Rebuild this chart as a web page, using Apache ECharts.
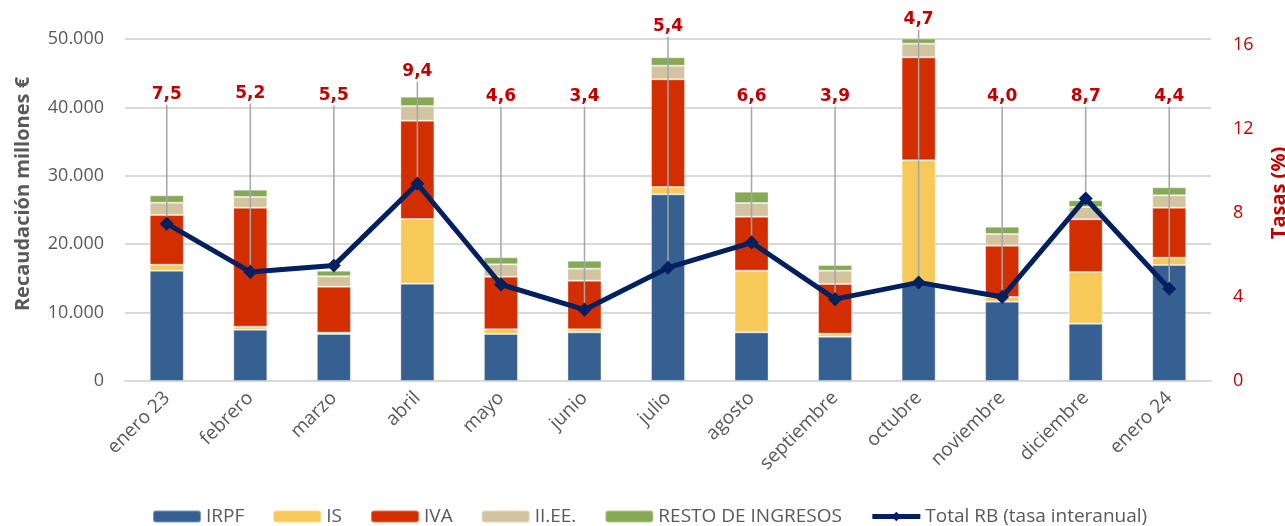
<!DOCTYPE html>
<html>
<head>
<meta charset="utf-8">
<script src="https://cdn.jsdelivr.net/npm/echarts@6/dist/echarts.min.js"></script>
<style>
html,body{margin:0;padding:0;background:#fff}
#main{width:1285px;height:526px}
</style>
</head>
<body>
<div id="main"></div>
<script>
// categorias
var meses = ['enero 23', 'febrero', 'marzo', 'abril', 'mayo', 'junio', 'julio', 'agosto', 'septiembre', 'octubre', 'noviembre', 'diciembre', 'enero 24'];
// recaudacion, millones de euros
var irpf = [16130, 7500, 6870, 14230, 6870, 7110, 27290, 7110, 6480, 14300, 11600, 8380, 16960];
var is = [880, 440, 200, 9450, 680, 440, 1070, 9020, 440, 17960, 680, 7560, 1070];
var iva = [7260, 17400, 6720, 14380, 7700, 7120, 15740, 7900, 7260, 15060, 7510, 7700, 7310];
var iiee = [1800, 1560, 1510, 2140, 1810, 1750, 2000, 1990, 1950, 2000, 1700, 1800, 1800];
var resto = [1070, 1070, 830, 1370, 1020, 1170, 1220, 1660, 830, 1020, 1070, 970, 1170];
// Total RB, tasa interanual (%)
var tasa = [7.5, 5.2, 5.5, 9.4, 4.6, 3.4, 5.4, 6.6, 3.9, 4.7, 4.0, 8.7, 4.4];

// altura (px) de cada etiqueta de la tasa
var etiquetaY = [95, 94, 96, 72, 97, 97, 27, 97, 97, 20, 97, 97, 97];

var gris = '#595959';
var rojo = '#C00000';
var azul = '#002060';
var fuente = 'Open Sans';

var chart = echarts.init(document.getElementById('main'));

function barra(nombre, datos, color) {
  return {
    name: nombre,
    type: 'bar',
    stack: 'total',
    barWidth: 34,
    data: datos,
    itemStyle: { color: color, borderColor: 'rgba(255,255,255,0.35)', borderWidth: 1 }
  };
}

var option = {
  animation: false,
  grid: { left: 125, right: 74, top: 39, bottom: 145, outerBoundsMode: 'none' },
  legend: {
    left: 152,
    top: 507,
    padding: 0,
    itemWidth: 48,
    itemHeight: 12,
    itemGap: 28,
    textStyle: { color: gris, fontSize: 19, fontFamily: fuente },
    data: ['IRPF', 'IS', 'IVA', 'II.EE.', 'RESTO DE INGRESOS', {
      name: 'Total RB (tasa interanual)',
      lineStyle: { width: 5, color: azul },
      itemStyle: { color: azul }
    }]
  },
  xAxis: {
    type: 'category',
    data: meses,
    axisTick: { show: false },
    axisLine: { lineStyle: { color: '#D9D9D9', width: 2 } },
    axisLabel: { rotate: 45, color: gris, fontSize: 19, fontFamily: fuente, margin: 14 }
  },
  yAxis: [
    {
      type: 'value',
      min: 0,
      max: 50000,
      interval: 10000,
      name: 'Recaudación millones €',
      nameLocation: 'middle',
      nameGap: 92,
      nameTextStyle: { color: gris, fontSize: 20, fontWeight: 'bold', fontFamily: fuente, padding: [0, 0, 0, 32] },
      axisLabel: {
        color: gris, fontSize: 18, fontFamily: fuente, margin: 21,
        formatter: function (v) { return v.toLocaleString('de-DE'); }
      },
      splitLine: { lineStyle: { color: '#D9D9D9', width: 2 } }
    },
    {
      type: 'value',
      min: 0,
      max: 16.3,
      interval: 4,
      name: 'Tasas (%)',
      nameLocation: 'middle',
      nameRotate: 90,
      nameGap: 58,
      nameTextStyle: { color: rojo, fontSize: 20, fontWeight: 'bold', fontFamily: fuente, padding: [0, 0, 0, 34] },
      axisLabel: { color: rojo, fontSize: 18, fontFamily: fuente, margin: 22, showMaxLabel: false },
      splitLine: { show: false }
    }
  ],
  series: [
    barra('IRPF', irpf, '#376092'),
    barra('IS', is, '#F7C958'),
    barra('IVA', iva, '#D22E00'),
    barra('II.EE.', iiee, '#D3C4A0'),
    barra('RESTO DE INGRESOS', resto, '#87A955'),
    {
      name: 'Total RB (tasa interanual)',
      type: 'line',
      yAxisIndex: 1,
      data: tasa,
      z: 5,
      symbol: 'diamond',
      symbolSize: 14,
      itemStyle: { color: azul },
      lineStyle: { color: azul, width: 5 },
      label: {
        show: true,
        position: 'top',
        color: rojo,
        fontSize: 17,
        fontWeight: 'bold',
        fontFamily: 'DejaVu Sans',
        backgroundColor: '#fff',
        padding: [1, 2],
        formatter: function (p) { return p.value.toFixed(1).replace('.', ','); }
      },
      labelLayout: function (p) {
        return { y: etiquetaY[p.dataIndex], align: 'center', verticalAlign: 'middle' };
      },
      labelLine: { show: true, lineStyle: { color: '#A6A6A6', width: 1.5 } }
    }
  ]
};

chart.setOption(option);
</script>
</body>
</html>
